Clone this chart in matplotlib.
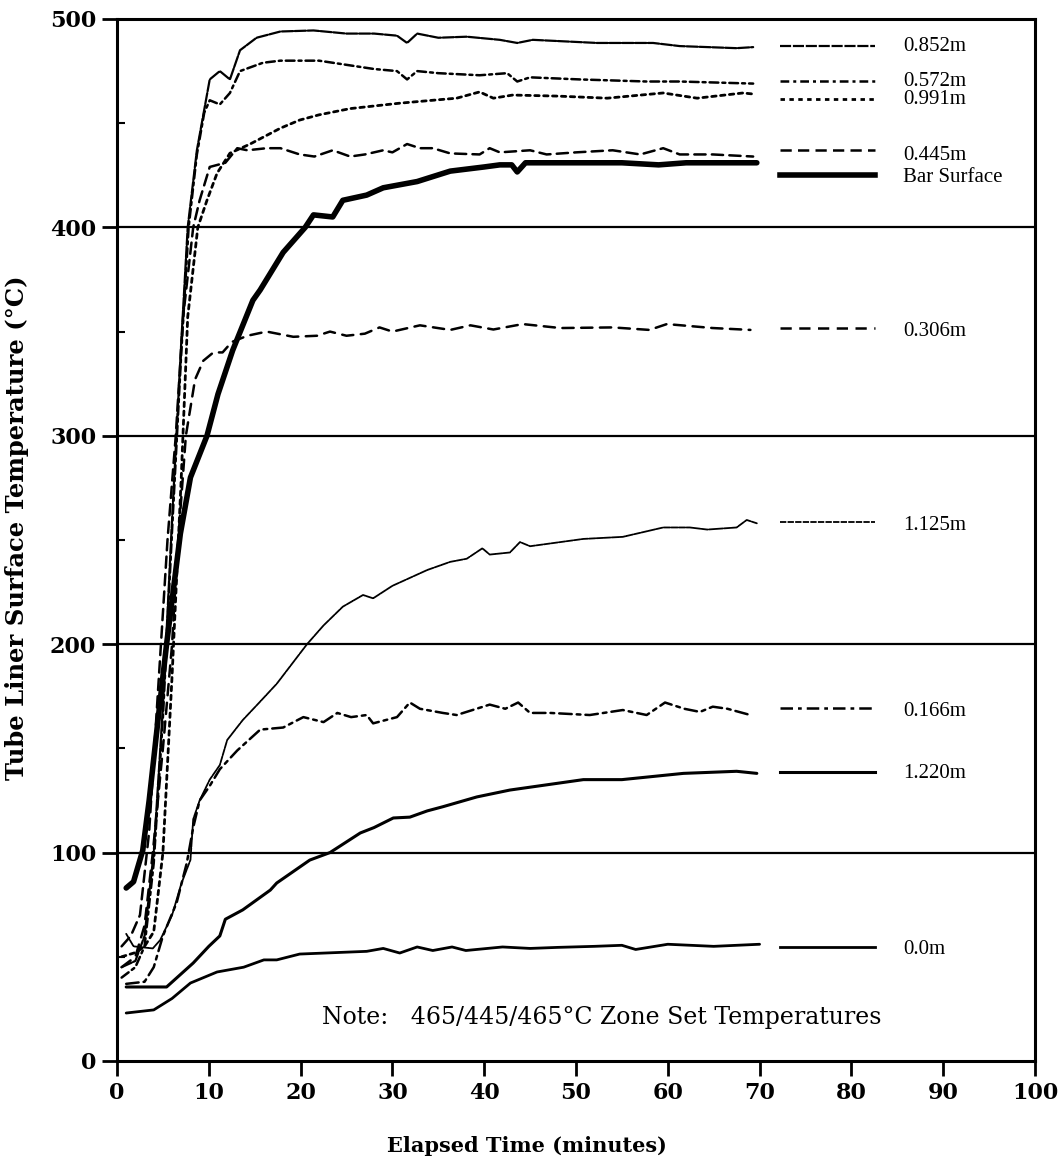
import matplotlib
matplotlib.use("Agg")
import matplotlib.pyplot as plt
from matplotlib.ticker import MultipleLocator

# Data (time in minutes, temperature in deg C)
t_852 = [0.5, 2, 3, 4, 5, 6, 7, 7.7, 8.7, 10.1, 11.2, 12.3, 13.4, 15.2, 17.8, 21.4, 25, 28, 30.5, 31.6, 32.7,
         35, 38.1, 41.7, 43.6, 45.3, 52.3, 58.4, 61.3, 67.5, 69.3]
T_852 = [45, 48, 60, 100, 170, 260, 345, 400, 437, 471, 475, 471, 485, 491, 494, 494.5, 493, 493, 492, 488.5, 493,
         491, 491.5, 490, 488.5, 490, 488.5, 488.5, 487, 486, 486.5]

t_572 = [0.5, 2, 3, 4, 5, 6, 7, 7.8, 8.7, 9.5, 10.1, 11.2, 12.3, 13.4, 15.9, 17.8, 22, 25, 28, 30.5, 31.6, 32.7,
         35, 39.5, 42.5, 43.6, 45, 50.4, 57.7, 61.3, 69.3]
T_572 = [40, 45, 55, 95, 165, 255, 340, 400, 435, 455, 461, 459, 464.5, 475, 479, 480, 480, 478, 476, 475, 471, 475,
         474, 473, 474, 470, 472, 471, 470, 470, 469]

t_991 = [0.5, 2, 3, 4, 5, 6, 7, 7.7, 8.8, 9.8, 10.9, 12.3, 14.5, 17.8, 19.9, 22, 25.4, 30.8, 34.4, 37, 39.5, 41,
         43.1, 48, 53.4, 59.5, 63.2, 68.2, 69.3]
T_991 = [50, 52, 55, 62, 100, 185, 280, 357, 400, 413, 426, 435.6, 440, 447.6, 451.5, 454, 457, 459.6, 461, 462, 465,
         462, 463.5, 463, 462, 464.5, 462, 464.5, 464]

t_445 = [0.5, 1.5, 2.5, 3.5, 4.5, 5.5, 6.4, 7.2, 8.3, 9, 10.1, 11.8, 13.1, 14.2, 16.3, 17.8, 19.9, 21.5, 23.5,
         25.4, 27, 29, 30, 31.6, 33, 34.4, 36.3, 39.5, 40.6, 41.7, 45, 46.8, 50, 54, 57, 59.5, 61.3, 64.9, 69.3]
T_445 = [55, 60, 70, 110, 180, 250, 300, 357, 400, 413, 429, 431, 438, 437, 438, 438, 435, 434, 437,
         434, 435, 437, 436, 440, 438, 438, 435.5, 435, 438, 436, 437, 435, 436, 437, 435, 438, 435, 435, 434]

t_bar = [1, 1.8, 2.8, 3.5, 4.5, 5.4, 6.9, 8, 9.8, 11, 12.6, 14.8, 15.6, 18.1, 20.5, 21.4, 23.5, 24.6, 27.2, 29,
         32.7, 36.3, 40, 41.7, 43, 43.6, 44.5, 50.4, 55, 59, 62, 69.7]
T_bar = [83, 86, 101, 125, 165, 200, 253, 280, 300, 320, 341, 365, 370, 388, 400, 406, 405, 413, 415.5, 419,
         422, 427, 429, 430, 430, 426.6, 431, 431, 431, 430, 431, 431]

t_306 = [0.5, 2, 3, 3.9, 5, 6, 6.5, 7.5, 8.5, 9.4, 10.5, 11.5, 12.5, 14.2, 16.3, 19.2, 21.8, 23.2, 25, 27, 28.6,
         30, 33, 36.3, 38.5, 41, 44.2, 48.3, 54, 58, 59.9, 64.9, 69]
T_306 = [45, 50, 65, 100, 150, 200, 240, 300, 327, 336, 340, 340, 345, 348, 350, 347.5, 348, 350, 348, 349, 352,
         350, 353, 350.8, 353, 351, 353.6, 351.7, 352, 350.8, 353.6, 351.7, 350.8]

t_1125 = [1, 1.8, 3.9, 4.7, 6, 7, 8, 8.3, 9, 10.1, 11.2, 12, 13.7, 15.5, 17.4, 20.7, 22.5, 24.6, 26.8, 27.9, 30,
          31, 33.8, 36.3, 38.1, 39.8, 40.6, 42.8, 43.9, 45, 50.8, 55.1, 59.5, 62.4, 64.3, 67.5, 68.6, 69.7]
T_1125 = [61, 55, 54, 58, 70, 85, 96.5, 116, 125, 135, 142, 154, 163.6, 172, 181, 200, 209, 218, 223.6, 222, 228,
          230, 235.6, 239.5, 241, 246, 243, 244, 249, 247, 250.5, 251.5, 256, 256, 255, 256, 259.6, 258]

t_166 = [1, 3, 4, 5, 6.5, 7.6, 8.3, 9, 10.1, 11.2, 13.1, 15.6, 18.1, 20.3, 22.5, 24, 25.5, 27.2, 27.9, 30.5, 31.9,
         33, 35.5, 37, 40.6, 42.3, 43.7, 45, 47.2, 51.5, 55.1, 57.7, 59.7, 61.8, 63.5, 64.9, 66.5, 69]
T_166 = [37, 38, 45, 60, 76, 95, 112, 125, 132, 140, 149, 159, 160, 165, 162.6, 167, 165, 166, 162, 165, 172,
         169, 167, 166, 171, 169, 172, 167, 167, 166, 168.4, 166, 172, 169, 167.5, 170, 169, 166]

t_1220 = [1, 5.4, 8.3, 10, 11.2, 11.8, 13.7, 16.7, 17.4, 21, 23.2, 26.5, 28, 30.1, 31.9, 33.8, 35.5, 39.2, 42.8,
          46, 50.8, 55, 61.7, 67.5, 69.7]
T_1220 = [35.5, 35.5, 47, 55, 60, 68, 72.5, 82, 85.4, 96.4, 100, 109.4, 112, 116.6, 117, 120, 122, 126.7, 130,
          132, 135, 135, 138, 139, 138]

t_00 = [1, 4, 6, 8, 10.9, 13.8, 16, 17.4, 19.9, 27.2, 29, 30.8, 32.7, 34.4, 36.5, 38, 42, 45, 48, 52, 55, 56.5,
        60, 65, 70]
T_00 = [23, 24.5, 30, 37.4, 42.7, 45, 48.5, 48.5, 51.3, 52.6, 54, 51.8, 54.7, 53, 54.7, 53, 54.7, 54, 54.5, 55,
        55.5, 53.5, 56, 55, 56]

labels = ["0.852m", "0.572m", "0.991m", "0.445m", "Bar Surface", "0.306m", "1.125m", "0.166m", "1.220m", "0.0m"]
key_line_y = [487, 470.2, 461.6, 437, 425, 351.5, 258.6, 169.4, 138.7, 54.7]
key_text_y = [487, 469.8, 461.6, 434.7, 423.7, 350, 257, 167.5, 138, 53.3]

series = [(t_852, T_852), (t_572, T_572), (t_991, T_991), (t_445, T_445), (t_bar, T_bar),
          (t_306, T_306), (t_1125, T_1125), (t_166, T_166), (t_1220, T_1220), (t_00, T_00)]
styles = [
    dict(ls=(0, (5, 0.8)), lw=1.6),
    dict(ls=(0, (3.5, 1.6, 1.2, 1.6)), lw=1.8),
    dict(ls=(0, (1.6, 1.6)), lw=2.0),
    dict(ls=(0, (4.5, 2.5)), lw=1.8),
    dict(ls="-", lw=4.0),
    dict(ls=(0, (4.5, 3)), lw=1.8),
    dict(ls=(0, (3.5, 0.7)), lw=1.3),
    dict(ls=(0, (5, 2, 1.5, 2)), lw=1.8),
    dict(ls="-", lw=2.2),
    dict(ls="-", lw=2.0),
]

fig = plt.figure(figsize=(10.59, 11.58), dpi=100)
ax = fig.add_axes([0.1105, 0.0838, 0.8668, 0.8998])

for y in [100, 200, 300, 400]:
    ax.axhline(y, color="black", lw=1.6, zorder=1)

for (t, T), st in zip(series, styles):
    ax.plot(t, T, color="black", solid_capstyle="round", dash_capstyle="round", zorder=3, **st)

for lab, ly, ty, st in zip(labels, key_line_y, key_text_y, styles):
    ax.plot([72.2, 82.6], [ly, ly], color="black", zorder=3, **st)
    ax.text(85.6, ty, lab, fontsize=15, family="Liberation Serif", va="center", ha="left")

ax.text(22.3, 21, "Note:   465/445/465\u00b0C Zone Set Temperatures", fontsize=17,
        family="DejaVu Serif", va="center", ha="left")

ax.set_xlim(0, 100)
ax.set_ylim(0, 500)
ax.xaxis.set_major_locator(MultipleLocator(10))
ax.yaxis.set_major_locator(MultipleLocator(100))
ax.yaxis.set_minor_locator(MultipleLocator(50))
ax.tick_params(axis="both", which="major", direction="out", length=11, width=2, pad=4)
ax.tick_params(axis="y", which="minor", direction="in", length=6, width=1.5)
for s in ax.spines.values():
    s.set_linewidth(2.2)

for lbl in ax.get_xticklabels() + ax.get_yticklabels():
    lbl.set_family("DejaVu Serif")
    lbl.set_fontweight("bold")
    lbl.set_fontsize(16)

fig.text(0.016, 0.544, "Tube Liner Surface Temperature (\u00b0C)", rotation=90, fontsize=17.5,
         family="DejaVu Serif", fontweight="bold", ha="center", va="center")
fig.text(0.3654, 0.01, "Elapsed Time (minutes)", fontsize=15, family="DejaVu Serif",
         fontweight="bold", ha="left", va="center")

fig.savefig("out.png", dpi=100)
